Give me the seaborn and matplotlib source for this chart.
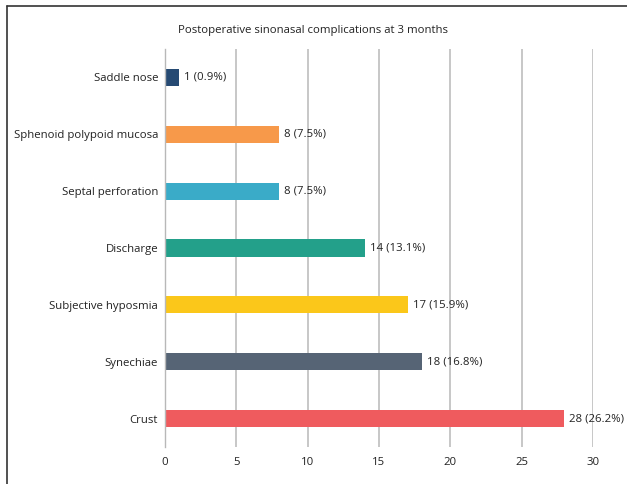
import matplotlib
matplotlib.use("Agg")
import matplotlib.pyplot as plt
from matplotlib.lines import Line2D
import seaborn as sns
import pandas as pd

categories = ["Saddle nose", "Sphenoid polypoid mucosa", "Septal perforation",
              "Discharge", "Subjective hyposmia", "Synechiae", "Crust"]
counts = [1, 8, 8, 14, 17, 18, 28]
percents = [0.9, 7.5, 7.5, 13.1, 15.9, 16.8, 26.2]
colors = ["#264a73", "#f7994a", "#3aabc8", "#23a08a", "#fbc71a", "#566475", "#ef5b5e"]
x_ticks = [0, 5, 10, 15, 20, 25, 30]
title = "Postoperative sinonasal complications at 3 months"

df = pd.DataFrame({"category": categories, "count": counts})

sns.set_style("white")
plt.rcParams["font.family"] = ["Open Sans", "DejaVu Sans"]
FS = 8.2

fig = plt.figure(figsize=(6.27, 4.84), dpi=100)
ax = fig.add_axes([165 / 627, 1 - 447 / 484, (593 - 165) / 627, (447 - 49) / 484])

sns.barplot(data=df, x="count", y="category", hue="category", palette=colors,
            order=categories, width=0.3, saturation=1, legend=False, ax=ax,
            linewidth=0)

ax.set_xlim(0, 30)
ax.set_ylim(6.5, -0.5)
ax.set_xticks(x_ticks)
ax.set_xticklabels([str(t) for t in x_ticks])
ax.set_xlabel("")
ax.set_ylabel("")

ax.xaxis.grid(True, color="#b8b8b8", linewidth=1.1)
ax.set_axisbelow(True)
for s in ["top", "right", "bottom"]:
    ax.spines[s].set_visible(False)
ax.spines["left"].set_color("#b8b8b8")
ax.spines["left"].set_linewidth(1.0)

ax.tick_params(axis="x", length=0, labelsize=FS, colors="#222222", pad=7)
ax.tick_params(axis="y", length=0, labelsize=FS, colors="#222222", pad=5)

# minor ticks on the category axis, between the bars
ax.set_yticks([i + 0.5 for i in range(-1, len(categories))], minor=True)
ax.tick_params(axis="y", which="minor", length=4, color="#b8b8b8", width=1)

for i, (c, p) in enumerate(zip(counts, percents)):
    ax.text(c + 0.35, i, f"{c} ({p}%)", va="center", ha="left",
            fontsize=FS, color="#222222")

fig.text(313 / 627, 1 - 30 / 484, title, ha="center", va="center",
         fontsize=FS, color="#222222")

# frame lines along the top and left edges
fig.add_artist(Line2D([7 / 627, 1], [1 - 6 / 484, 1 - 6 / 484],
                      transform=fig.transFigure, color="#333333", linewidth=1.2))
fig.add_artist(Line2D([7 / 627, 7 / 627], [0, 1 - 6 / 484],
                      transform=fig.transFigure, color="#333333", linewidth=1.2))

fig.savefig("out.png", dpi=100)
